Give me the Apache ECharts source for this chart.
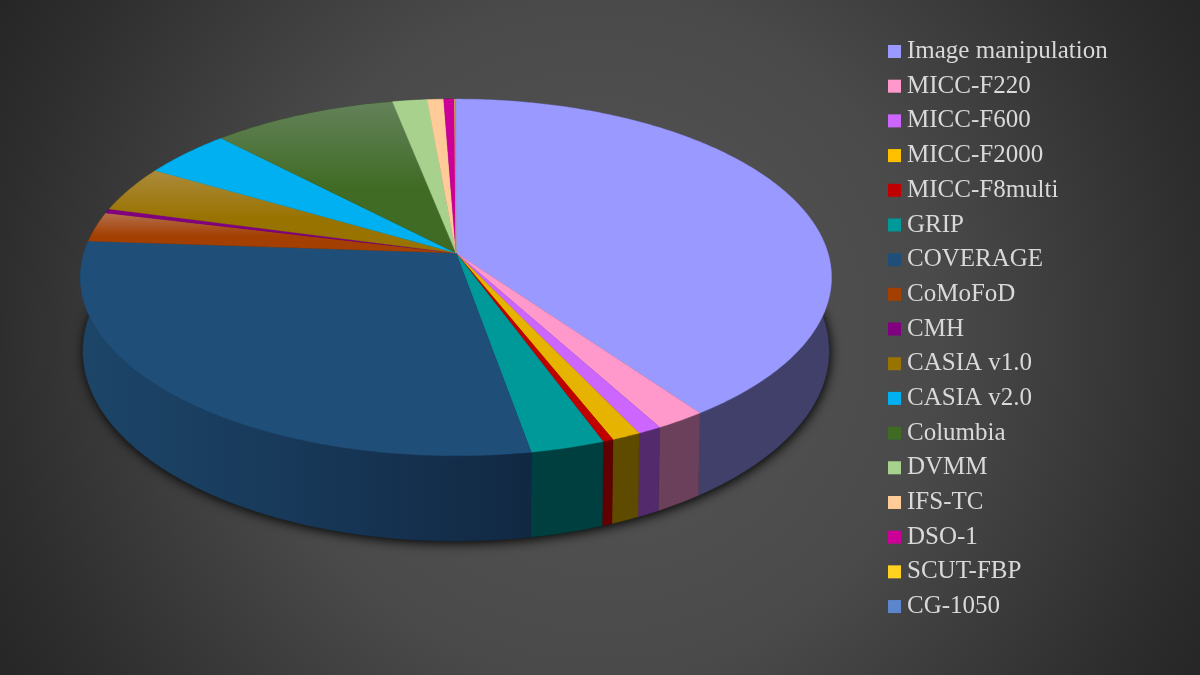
<!DOCTYPE html>
<html>
<head>
<meta charset="utf-8">
<style>html,body{margin:0;padding:0;background:#222}#c{width:1200px;height:675px}</style>
<script src="https://cdn.jsdelivr.net/npm/echarts@6/dist/echarts.min.js"></script>
</head>
<body>
<div id="c"></div>
<script>
const categories = ["Image manipulation","MICC-F220","MICC-F600","MICC-F2000","MICC-F8multi","GRIP","COVERAGE","CoMoFoD","CMH","CASIA v1.0","CASIA v2.0","Columbia","DVMM","IFS-TC","DSO-1","SCUT-FBP","CG-1050"];
const shares = [40.1,1.9,0.9,1.1,0.4,2.8,28.9,2.7,0.4,4.2,4.4,9.1,1.7,0.8,0.53,0.02,0.05];
const topColors = ["#9999FF","#FF99CC","#CC66FF","#E6B400","#C00000","#009999","#1F4E79","#A33F00","#800080","#997300","#00B0F0","#3F6B24","#A9D18E","#FFCC99","#CC0099","#FFD320","#7F96C8"];
const legendColors = ["#9999FF","#FF99CC","#CC66FF","#FFC000","#C00000","#009999","#1F4E79","#A33F00","#800080","#997300","#00B0F0","#3F6B24","#A9D18E","#FFCC99","#CC0099","#FFD320","#5B86CC"];
const wallColors = ["#40406A","#6B405A","#532A6B","#5F4B00","#610000","#003F3F","#1B456B","#4A1C00","#3A003A","#453400","#004F6D","#1C3010","#4C5F40","#735C45","#5C0045","#736010","#304060"];
const glowTops = {"CoMoFoD":"#B4704E","CASIA v1.0":"#AB8A3C","Columbia":"#64825A"};

const total = shares.reduce((a, b) => a + b, 0);
const G = {cx:456, cy:253, R:372, K:175, p:0.137, lowerCy:325, lowerR:369.5, lowerK:186.4};

function rim(theta, lower) {
  const X = Math.sin(theta), Y = Math.cos(theta), s = 1 / (1 + G.p * Y);
  if (lower) return [G.cx + G.lowerR * X * s, G.lowerCy - G.lowerK * Y * s];
  return [G.cx + G.R * X * s, G.cy - G.K * Y * s];
}
function arc(a, b, lower) {
  const n = Math.max(2, Math.ceil(Math.abs(b - a) / (Math.PI / 240)));
  const out = [];
  for (let i = 0; i <= n; i++) out.push(rim(a + (b - a) * i / n, lower));
  return out;
}
function shareAngle(s) { return s / total * Math.PI * 2; }

function makeRender(i) {
  return function (params, api) {
    const v = api.value(0);
    let before = 0;
    for (let k = 0; k < i; k++) before += shares[k];
    const a = shareAngle(before), b = a + shareAngle(v);
    const name = categories[i];
    const topFill = glowTops[name]
      ? {type:'linear', x:0, y:0, x2:0, y2:1, colorStops:[{offset:0,color:glowTops[name]},{offset:0.58,color:topColors[i]},{offset:1,color:topColors[i]}]}
      : topColors[i];
    let wallFill = wallColors[i];
    if (name === "COVERAGE") {
      wallFill = {type:'linear', x:85, y:0, x2:531, y2:0, global:true, colorStops:[{offset:0,color:"#1C4568"},{offset:0.45,color:"#18395A"},{offset:1,color:"#112842"}]};
    }
    const wallPts = arc(a, b, false).concat(arc(b, a, true));
    const topPts = [[G.cx, G.cy]].concat(arc(a, b, false));
    const children = [
      {type:'polygon', z2:2, shape:{points:wallPts}, style:{fill:wallFill, stroke:wallFill, lineWidth:0.5}},
      {type:'polygon', z2:3, shape:{points:topPts}, style:{fill:topFill, stroke:topFill, lineWidth:0.4}}
    ];
    if (i === 0) {
      children.unshift({type:'polygon', z2:1, shape:{points:arc(0, Math.PI * 2, true)},
        style:{fill:"#111", shadowColor:"rgba(0,0,0,1)", shadowBlur:12, shadowOffsetX:1, shadowOffsetY:2}});
    }
    return {type:'group', children:children};
  };
}

const series = categories.map((name, i) => ({
  type:'custom', name:name, coordinateSystem:'none', silent:true,
  itemStyle:{color:legendColors[i]},
  data:[[shares[i]]],
  renderItem:makeRender(i)
}));

const chart = echarts.init(document.getElementById('c'), null, {renderer:'canvas', width:1200, height:675});
chart.setOption({
  animation:false,
  backgroundColor:{type:'radial', x:0.5, y:0.5, r:1.02, colorStops:[{offset:0,color:"#565656"},{offset:0.49,color:"#4A4A4A"},{offset:0.87,color:"#2E2E2E"},{offset:1,color:"#262626"}]},
  legend:{
    orient:'vertical', left:888, top:39, padding:0, data:categories,
    icon:'rect', itemWidth:13, itemHeight:13, itemGap:9.69,
    selectedMode:false,
    textStyle:{color:"#D9D9D9", fontFamily:"Liberation Serif", fontSize:25, lineHeight:24, padding:[0,0,0,1]}
  },
  series:series
});
</script>
</body>
</html>
